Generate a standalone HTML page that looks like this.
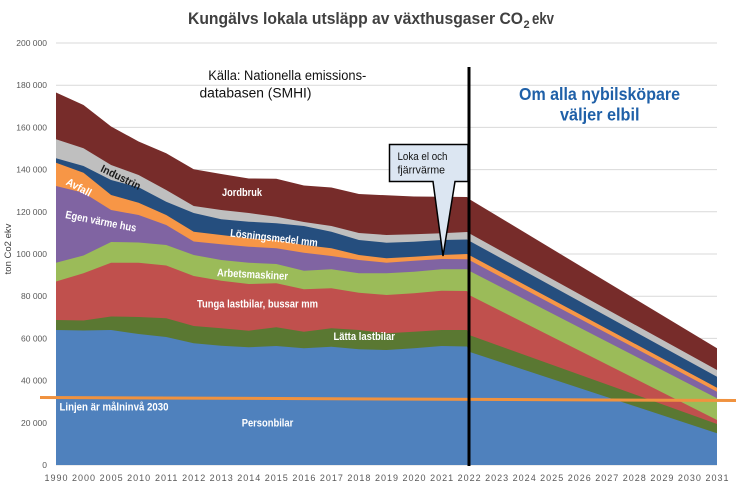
<!DOCTYPE html>
<html>
<head>
<meta charset="utf-8">
<style>
  html,body{margin:0;padding:0;background:#fff;}
  svg{display:block;font-family:"Liberation Sans",sans-serif;}
</style>
</head>
<body>
<svg width="739" height="487" viewBox="0 0 739 487" xmlns="http://www.w3.org/2000/svg">
  <rect width="739" height="487" fill="#fff"/>

  <!-- gridlines -->
  <g stroke="#D9D9D9" stroke-width="1">
    <line x1="56" y1="43" x2="717" y2="43"/>
    <line x1="56" y1="85.2" x2="717" y2="85.2"/>
    <line x1="56" y1="127.4" x2="717" y2="127.4"/>
    <line x1="56" y1="169.6" x2="717" y2="169.6"/>
    <line x1="56" y1="211.8" x2="717" y2="211.8"/>
    <line x1="56" y1="254" x2="717" y2="254"/>
    <line x1="56" y1="296.2" x2="717" y2="296.2"/>
    <line x1="56" y1="338.4" x2="717" y2="338.4"/>
    <line x1="56" y1="380.6" x2="717" y2="380.6"/>
    <line x1="56" y1="422.8" x2="717" y2="422.8"/>
    <line x1="56" y1="465" x2="717" y2="465"/>
  </g>

  <!-- stacked areas (each drawn from its top boundary to the base) -->
  <polygon fill="#772C2A" points="56,92.5 83.5,105 111.1,126.5 138.6,141.5 166.2,153.2 193.7,169.3 221.2,174 248.8,178.5 276.3,178.7 303.9,185.5 331.4,187.5 358.9,194 386.5,195.3 414,196.5 441.6,196.7 467,197 469.1,199 717,348.3 717,465 56,465"/>
  <polygon fill="#BFBFBF" points="56,139.3 83.5,148.3 111.1,165 138.6,175 166.2,190 193.7,206 221.2,210 248.8,213 276.3,216.7 303.9,222 331.4,226 358.9,233 386.5,235 414,234.3 441.6,233.3 467,232 469.1,233.3 717,370 717,465 56,465"/>
  <polygon fill="#254E7E" points="56,158.3 83.5,166 111.1,180 138.6,187.3 166.2,201.7 193.7,213 221.2,219.3 248.8,221.7 276.3,223.3 303.9,226 331.4,231.7 358.9,240 386.5,242.7 414,241.7 441.6,240 467,239.5 469.1,240.7 717,376.7 717,465 56,465"/>
  <polygon fill="#F79646" points="56,162.7 83.5,172.7 111.1,195 138.6,202.7 166.2,215 193.7,231.7 221.2,235 248.8,238.3 276.3,240 303.9,245 331.4,248.3 358.9,255 386.5,258.3 414,256.7 441.6,255 467,254 469.1,255 717,387.7 717,465 56,465"/>
  <polygon fill="#8064A2" points="56,186 83.5,192.7 111.1,210 138.6,215 166.2,225 193.7,241.5 221.2,244.3 248.8,246.7 276.3,248.3 303.9,252.7 331.4,256 358.9,260 386.5,262.7 414,260.7 441.6,259 467,259.3 469.1,260 717,391.7 717,465 56,465"/>
  <polygon fill="#9BBB59" points="56,262.7 83.5,255.5 111.1,242 138.6,242.5 166.2,245 193.7,255 221.2,260 248.8,262.7 276.3,264 303.9,270.7 331.4,269.3 358.9,273.3 386.5,273.3 414,271.7 441.6,269.3 467,269.3 469.1,270.7 717,398.3 717,465 56,465"/>
  <polygon fill="#C0504D" points="56,281.5 83.5,273.3 111.1,262.7 138.6,262.7 166.2,265.5 193.7,276 221.2,280.7 248.8,284 276.3,283.3 303.9,289.3 331.4,288.3 358.9,292.7 386.5,295 414,293.3 441.6,290.7 467,291 469.1,295 717,420 717,465 56,465"/>
  <polygon fill="#5A7832" points="56,320 83.5,320.5 111.1,316.5 138.6,317 166.2,318.3 193.7,326 221.2,328.3 248.8,330.7 276.3,327.3 303.9,331.7 331.4,328.3 358.9,330 386.5,333.3 414,331.7 441.6,330 467,330 469.1,335 717,424 717,465 56,465"/>
  <polygon fill="#4F81BD" points="56,330 83.5,330.5 111.1,330 138.6,334 166.2,337 193.7,343.3 221.2,345.7 248.8,347.3 276.3,346 303.9,348.3 331.4,346.7 358.9,349.3 386.5,350 414,348.3 441.6,346 467,346.5 469.1,351.7 717,433.3 717,465 56,465"/>

  <!-- target line -->
  <line x1="40" y1="397.5" x2="736" y2="400.5" stroke="#F0923F" stroke-width="3"/>

  <!-- callout -->
  <path d="M389.5,144.5 H468 V181.5 H455 L443,256 L433,181.5 H389.5 Z" fill="#DCE6F2" stroke="#000" stroke-width="1.5" stroke-linejoin="miter"/>
  <text x="397.5" y="160" font-size="11" fill="#111" textLength="50" lengthAdjust="spacingAndGlyphs">Loka el och</text>
  <text x="397.5" y="173.5" font-size="11" fill="#111" textLength="47.5" lengthAdjust="spacingAndGlyphs">fjärrvärme</text>

  <!-- vertical divider -->
  <line x1="469" y1="67" x2="469" y2="466" stroke="#000" stroke-width="3"/>

  <!-- title -->
  <text x="188" y="24" font-size="17" font-weight="bold" fill="#404040" textLength="335" lengthAdjust="spacingAndGlyphs">Kungälvs lokala utsläpp av växthusgaser CO</text>
  <text x="523.5" y="28" font-size="11" font-weight="bold" fill="#404040">2</text>
  <text x="532" y="24" font-size="17" font-weight="bold" fill="#404040" textLength="22" lengthAdjust="spacingAndGlyphs">ekv</text>

  <!-- source note -->
  <text x="208.3" y="80" font-size="13.5" fill="#111" textLength="158" lengthAdjust="spacingAndGlyphs">Källa: Nationella emissions-</text>
  <text x="199.5" y="97.5" font-size="13.5" fill="#111" textLength="112" lengthAdjust="spacingAndGlyphs">databasen (SMHI)</text>

  <!-- scenario note -->
  <text x="519" y="100" font-size="17.5" font-weight="bold" fill="#1F60A8" textLength="161" lengthAdjust="spacingAndGlyphs">Om alla nybilsköpare</text>
  <text x="560" y="120.5" font-size="17.5" font-weight="bold" fill="#1F60A8" textLength="79.5" lengthAdjust="spacingAndGlyphs">väljer elbil</text>

  <!-- y axis labels -->
  <g font-size="8.5" fill="#595959" text-anchor="end">
    <text x="47" y="46">200 000</text>
    <text x="47" y="88.2">180 000</text>
    <text x="47" y="130.4">160 000</text>
    <text x="47" y="172.6">140 000</text>
    <text x="47" y="214.8">120 000</text>
    <text x="47" y="257">100 000</text>
    <text x="47" y="299.2">80 000</text>
    <text x="47" y="341.4">60 000</text>
    <text x="47" y="383.6">40 000</text>
    <text x="47" y="425.8">20 000</text>
    <text x="47" y="468">0</text>
  </g>
  <text transform="translate(11,249) rotate(-90)" font-size="9.5" fill="#404040" text-anchor="middle">ton Co2 ekv</text>

  <!-- x axis labels -->
  <g font-size="9" fill="#595959" text-anchor="middle" letter-spacing="1">
    <text x="56.5" y="481">1990</text>
    <text x="84" y="481">2000</text>
    <text x="111.6" y="481">2005</text>
    <text x="139.1" y="481">2010</text>
    <text x="166.7" y="481">2011</text>
    <text x="194.2" y="481">2012</text>
    <text x="221.7" y="481">2013</text>
    <text x="249.3" y="481">2014</text>
    <text x="276.8" y="481">2015</text>
    <text x="304.4" y="481">2016</text>
    <text x="331.9" y="481">2017</text>
    <text x="359.4" y="481">2018</text>
    <text x="387" y="481">2019</text>
    <text x="414.5" y="481">2020</text>
    <text x="442.1" y="481">2021</text>
    <text x="469.6" y="481">2022</text>
    <text x="497.1" y="481">2023</text>
    <text x="524.7" y="481">2024</text>
    <text x="552.2" y="481">2025</text>
    <text x="579.8" y="481">2026</text>
    <text x="607.3" y="481">2027</text>
    <text x="634.8" y="481">2028</text>
    <text x="662.4" y="481">2029</text>
    <text x="689.9" y="481">2030</text>
    <text x="717.5" y="481">2031</text>
  </g>

  <!-- series labels -->
  <g font-size="11" font-weight="bold" fill="#fff">
    <text x="222" y="196" textLength="40" lengthAdjust="spacingAndGlyphs">Jordbruk</text>
    <text x="121" y="181" text-anchor="middle" fill="#1a1a1a" textLength="43" lengthAdjust="spacingAndGlyphs" transform="rotate(26 121 177)">Industrin</text>
    <text x="79" y="191" text-anchor="middle" textLength="27" lengthAdjust="spacingAndGlyphs" transform="rotate(28 79 187)">Avfall</text>
    <text x="101" y="225" text-anchor="middle" textLength="72" lengthAdjust="spacingAndGlyphs" transform="rotate(11 101 221)">Egen värme hus</text>
    <text x="274" y="241.5" text-anchor="middle" textLength="88" lengthAdjust="spacingAndGlyphs" transform="rotate(6.5 274 237.5)">Lösningsmedel mm</text>
    <text x="252.5" y="278" text-anchor="middle" textLength="71" lengthAdjust="spacingAndGlyphs" transform="rotate(3 252.5 274)">Arbetsmaskiner</text>
    <text x="257.5" y="307.5" text-anchor="middle" textLength="121" lengthAdjust="spacingAndGlyphs">Tunga lastbilar, bussar mm</text>
    <text x="333.5" y="340" textLength="61.5" lengthAdjust="spacingAndGlyphs">Lätta lastbilar</text>
    <text x="241.7" y="426.5" textLength="51.6" lengthAdjust="spacingAndGlyphs">Personbilar</text>
    <text x="59.5" y="410.5" textLength="109" lengthAdjust="spacingAndGlyphs">Linjen är målninvå 2030</text>
  </g>
</svg>
</body>
</html>
